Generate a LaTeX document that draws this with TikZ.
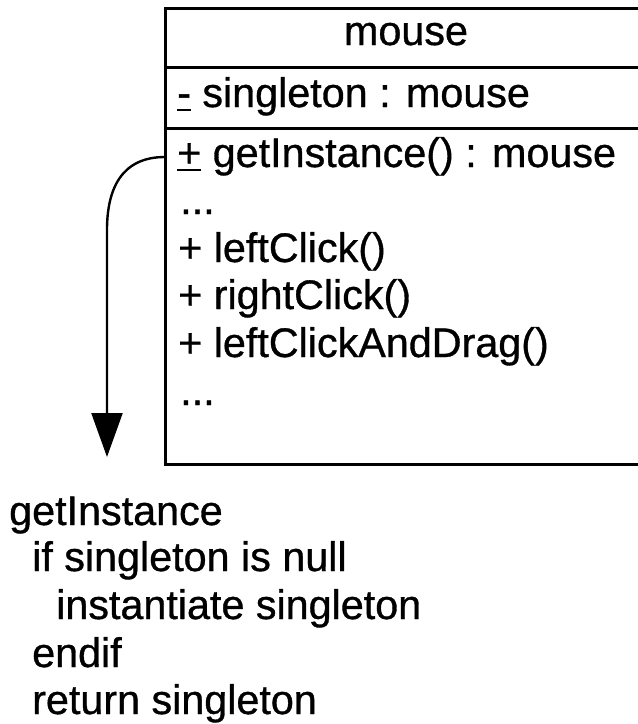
\documentclass[tikz,border=0pt]{standalone}
\usepackage{fontspec}
\setmainfont[FakeBold=0.8]{Liberation Sans}
\usetikzlibrary{arrows.meta}
\newcommand\ulsym[1]{\setbox0\hbox{#1}\rlap{\rule[-4pt]{\wd0}{2.2pt}}\box0{}}
\begin{document}
\begin{tikzpicture}[x=1pt,y=-1pt,
  txt/.style={anchor=base west,inner sep=0pt,font=\fontsize{41.3}{48}\selectfont},
  frame/.style={line width=3pt},
  flow/.style={line width=2.4pt,-{Triangle[width=31pt,length=44pt]}}]
\useasboundingbox (0,0) rectangle (638,724);
% class box (right side runs off the picture)
\draw[frame] (638,8) -- (165,8) -- (165,464) -- (638,464);
\draw[frame] (165,67) -- (638,67);
\draw[frame] (165,128) -- (638,128);
\node[txt,anchor=base] (cname) at (406,45) {mouse};
\node[txt] (attr) at (177,107) {\ulsym{-} singleton : mouse};
\node[txt] (m1) at (177,167) {\ulsym{+} getInstance() : mouse};
\node[txt] (m2) at (180,214) {...};
\node[txt] (m3) at (178,262) {+ leftClick()};
\node[txt] (m4) at (178,309) {+ rightClick()};
\node[txt] (m5) at (178,357) {+ leftClickAndDrag()};
\node[txt] (m6) at (180,405) {...};
% arrow
\coordinate (src) at (165,157);
\coordinate (tip) at (107,457);
\draw[flow] (src) .. controls (122,157) and (107,188) .. (107,230) -- (tip);
% pseudo code
\node[txt] (p1) at (9,525) {getInstance};
\node[txt] (p2) at (32,571) {if singleton is null};
\node[txt] (p3) at (56,619) {instantiate singleton};
\node[txt] (p4) at (32,667) {endif};
\node[txt] (p5) at (32,714) {return singleton};
\end{tikzpicture}
\end{document}
